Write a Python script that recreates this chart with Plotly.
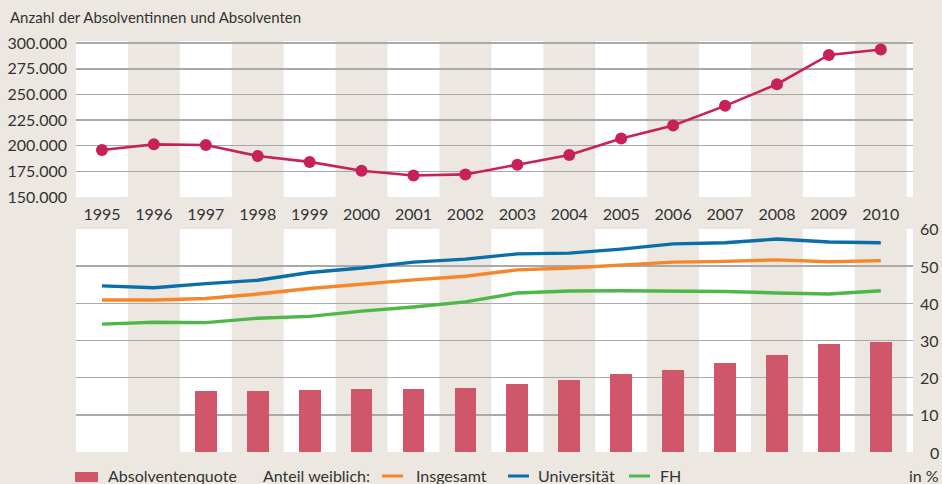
import plotly.graph_objects as go

# ---------------- data ----------------
years = list(range(1995, 2011))
absolventen = [195800, 201300, 200700, 190000, 184200, 175500, 171000, 172000,
               181500, 191000, 207000, 219700, 238800, 259900, 288400, 293800]

quote_years = years[2:]
absolventenquote = [16.4, 16.4, 16.7, 16.9, 16.9, 17.2, 18.3, 19.4,
                    21.0, 22.1, 23.9, 26.1, 29.1, 29.6]

anteil_insgesamt = [40.9, 40.9, 41.3, 42.5, 44.0, 45.2, 46.3, 47.3,
                    49.0, 49.5, 50.4, 51.1, 51.3, 51.7, 51.2, 51.5]
anteil_universitaet = [44.7, 44.2, 45.3, 46.2, 48.3, 49.5, 51.1, 51.9,
                       53.3, 53.5, 54.6, 56.0, 56.3, 57.3, 56.5, 56.3]
anteil_fh = [34.4, 34.9, 34.8, 36.0, 36.5, 37.9, 39.0, 40.4,
             42.8, 43.3, 43.4, 43.3, 43.2, 42.8, 42.5, 43.4]

top_tickvals = [150000, 175000, 200000, 225000, 250000, 275000, 300000]
top_ticktext = ["150.000", "175.000", "200.000", "225.000", "250.000", "275.000", "300.000"]
bottom_tickvals = [0, 10, 20, 30, 40, 50, 60]

title_text = "Anzahl der Absolventinnen und Absolventen"
legend_bar = "Absolventenquote"
legend_prefix = "Anteil weiblich:"
legend_lines = ["Insgesamt", "Universität", "FH"]
unit_text = "in %"

# ---------------- styles ----------------
BG = "#ECE8E1"
GRID = "#A9A9A9"
TXT = "#333333"
C_TOP = "#C8215A"
C_BAR = "#D05669"
C_ORANGE = "#F5862A"
C_BLUE = "#0A6FA8"
C_GREEN = "#4DB847"
FONT = "Lato, Noto Sans, sans-serif"

W, H = 942, 484
L, R = 76, 29
PW = W - L - R

def px_x(p):
    return (p - L) / PW

def px_y(p):
    return 1 - p / H

fig = go.Figure()

fig.add_trace(go.Scatter(
    x=years, y=absolventen, mode="lines+markers",
    line=dict(color=C_TOP, width=2.6),
    marker=dict(color=C_TOP, size=12),
    xaxis="x", yaxis="y", showlegend=False, hoverinfo="skip"))

fig.add_trace(go.Bar(
    x=quote_years, y=absolventenquote, width=0.42,
    marker=dict(color=C_BAR, line=dict(width=0)),
    xaxis="x2", yaxis="y2", showlegend=False, hoverinfo="skip"))

for vals, col in [(anteil_fh, C_GREEN), (anteil_insgesamt, C_ORANGE), (anteil_universitaet, C_BLUE)]:
    fig.add_trace(go.Scatter(
        x=years, y=vals, mode="lines",
        line=dict(color=col, width=3.4),
        xaxis="x2", yaxis="y2", showlegend=False, hoverinfo="skip"))

# alternating bands
shapes = []
for i, yr in enumerate(years):
    if i % 2 == 1:
        for xr, yr_ref in [("x", "y domain"), ("x2", "y2 domain")]:
            shapes.append(dict(type="rect", xref=xr, yref=yr_ref,
                               x0=yr - 0.5, x1=yr + 0.5, y0=0, y1=1,
                               fillcolor=BG, line=dict(width=0), layer="below"))

# custom legend swatches
shapes.append(dict(type="rect", xref="paper", yref="paper",
                   x0=px_x(75), x1=px_x(98), y0=px_y(482), y1=px_y(472),
                   fillcolor=C_BAR, line=dict(width=0)))
for (x0, x1), col in [((382, 403), C_ORANGE), ((508, 529), C_BLUE), ((629, 650), C_GREEN)]:
    shapes.append(dict(type="line", xref="paper", yref="paper",
                       x0=px_x(x0), x1=px_x(x1), y0=px_y(476), y1=px_y(476),
                       line=dict(color=col, width=3)))

LEG_Y = 475
annotations = [
    dict(text=title_text, xref="paper", yref="paper", x=px_x(8), y=px_y(17),
         xanchor="left", yanchor="middle", showarrow=False,
         font=dict(size=15, color=TXT)),
    dict(text=legend_bar, xref="paper", yref="paper", x=px_x(106), y=px_y(LEG_Y),
         xanchor="left", yanchor="middle", showarrow=False, font=dict(size=16, color=TXT)),
    dict(text=legend_prefix, xref="paper", yref="paper", x=px_x(261), y=px_y(LEG_Y),
         xanchor="left", yanchor="middle", showarrow=False, font=dict(size=16, color=TXT)),
    dict(text=unit_text, xref="paper", yref="paper", x=px_x(941), y=px_y(LEG_Y),
         xanchor="right", yanchor="middle", showarrow=False, font=dict(size=16, color=TXT)),
]
for name, xp in zip(legend_lines, [414, 536, 658]):
    annotations.append(dict(text=name, xref="paper", yref="paper", x=px_x(xp), y=px_y(LEG_Y),
                            xanchor="left", yanchor="middle", showarrow=False,
                            font=dict(size=16, color=TXT)))
for v in bottom_tickvals:
    annotations.append(dict(text=str(v), xref="paper", yref="y2", x=px_x(941), y=v,
                            xanchor="right", yanchor="middle", showarrow=False,
                            font=dict(size=16, color=TXT)))

xrange_ = [years[0] - 0.5, years[-1] + 0.62]

fig.update_layout(
    width=W, height=H,
    margin=dict(l=L, r=R, t=0, b=0, autoexpand=False),
    paper_bgcolor=BG, plot_bgcolor="white",
    font=dict(family=FONT, size=16, color=TXT),
    shapes=shapes, annotations=annotations,
    bargap=0,
    xaxis=dict(domain=[0, 1], anchor="y", range=xrange_, tickvals=years,
               ticktext=[str(y) for y in years], showgrid=False, zeroline=False,
               showline=False, ticks="", ticklabelstandoff=6, automargin=False,
               tickfont=dict(size=16, color=TXT)),
    yaxis=dict(domain=[px_y(197), px_y(41)], anchor="x",
               range=[150000, 302000], tickvals=top_tickvals, ticktext=top_ticktext,
               showgrid=True, gridcolor=GRID, gridwidth=1.6, zeroline=False,
               showline=False, ticks="", ticklabelstandoff=8, automargin=False,
               tickfont=dict(size=16, color=TXT)),
    xaxis2=dict(domain=[0, 1], anchor="y2", range=xrange_, showticklabels=False,
                showgrid=False, zeroline=False, showline=False, ticks=""),
    yaxis2=dict(domain=[px_y(452), px_y(229)], anchor="x2", side="right",
                range=[0, 60], tickvals=bottom_tickvals, showticklabels=False,
                showgrid=True, gridcolor=GRID, gridwidth=1.6, zeroline=False,
                showline=False, ticks="", automargin=False),
)

fig.write_html("out.html",
               config={"displayModeBar": False, "staticPlot": True},
               post_script="document.body.style.margin='0';document.body.style.overflow='hidden';")
